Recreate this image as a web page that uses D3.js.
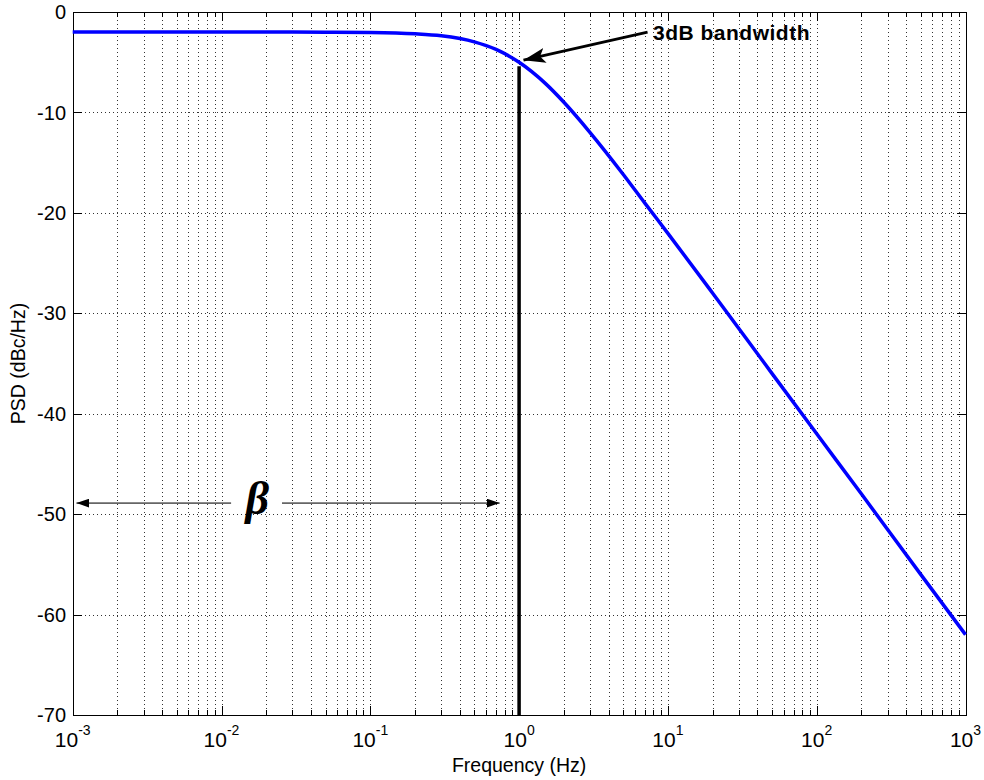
<!DOCTYPE html>
<html>
<head>
<meta charset="utf-8">
<script src="https://cdn.jsdelivr.net/npm/d3@7/dist/d3.min.js"></script>
<style>
  html, body { margin: 0; padding: 0; background: #fff; }
  svg { display: block; font-family: Arial, "Liberation Sans", Helvetica, sans-serif; }
</style>
</head>
<body>
<svg id="chart" width="984" height="780"></svg>
<script>
// Power spectral density of a Lorentzian line shape
const freq = [0.001, 0.003, 0.01, 0.03, 0.05, 0.1, 0.2, 0.3, 0.5, 0.7, 1, 1.5, 2, 3, 5, 7, 10, 20, 50, 100, 200, 500, 1000];
const psd  = [-2.0, -2.0, -2.0, -2.0, -2.01, -2.04, -2.17, -2.37, -2.97, -3.73, -5.01, -7.11, -8.99, -12.0, -16.15, -19.03, -22.04, -28.0, -35.98, -42.0, -48.0, -56.0, -62.0];

const xTickExponents = [-3, -2, -1, 0, 1, 2, 3];
const yTickValues = [0, -10, -20, -30, -40, -50, -60, -70];

const bandwidthFreq = 1;       // 3 dB corner frequency
const bandwidthLineTop = -5.4; // top of the marker line (dB)
const annotationText = "3dB bandwidth";
const annotationTail = [7.3, -2.0];   // [Hz, dB]
const annotationTip = [1.07, -4.8];
const betaLeft = [0.00106, 0.0116, -48.9];  // [tip Hz, tail Hz, dB]
const betaRight = [0.0255, 0.74, -48.9];    // [tail Hz, tip Hz, dB]
const betaPos = [0.0174, -48.9];

const svg = d3.select("#chart");
const L = 72.7, R = 965.5, T = 12, B = 715;

const x = d3.scaleLog().domain([1e-3, 1e3]).range([L, R]);
const y = d3.scaleLinear().domain([-70, 0]).range([B, T]);

// arrowhead markers
const defs = svg.append("defs");
defs.append("marker").attr("id", "bigHead")
  .attr("viewBox", "0 0 22 15").attr("refX", 22).attr("refY", 7.5)
  .attr("markerWidth", 22).attr("markerHeight", 15)
  .attr("markerUnits", "userSpaceOnUse").attr("orient", "auto")
  .append("path").attr("d", "M0,0 L22,7.5 L0,15 L5,7.5 Z").attr("fill", "#000");
defs.append("marker").attr("id", "smallHead")
  .attr("viewBox", "0 0 13 9").attr("refX", 13).attr("refY", 4.5)
  .attr("markerWidth", 13).attr("markerHeight", 9)
  .attr("markerUnits", "userSpaceOnUse").attr("orient", "auto")
  .append("path").attr("d", "M0,0 L13,4.5 L0,9 Z").attr("fill", "#000");

// grid lines
const minor = [];
for (let e = -3; e < 3; e++) for (let m = 2; m <= 9; m++) minor.push(m * Math.pow(10, e));
const major = xTickExponents.slice(1, -1).map(e => Math.pow(10, e));

const grid = svg.append("g").attr("stroke", "#333").attr("stroke-width", 1)
  .attr("stroke-dasharray", "1,3").attr("shape-rendering", "crispEdges");
grid.selectAll(".gx").data(minor.concat(major)).join("line")
  .attr("x1", d => Math.round(x(d)) + 0.5).attr("x2", d => Math.round(x(d)) + 0.5)
  .attr("y1", T).attr("y2", B);
grid.selectAll(".gy").data(yTickValues.slice(1, -1)).join("line")
  .attr("y1", d => Math.round(y(d)) + 0.5).attr("y2", d => Math.round(y(d)) + 0.5)
  .attr("x1", L).attr("x2", R);

// tick marks on all four sides, pointing inward
const ticks = svg.append("g").attr("stroke", "#000").attr("stroke-width", 1).attr("shape-rendering", "crispEdges");
const majLen = 9, minLen = 5;
minor.forEach(v => {
  const px = Math.round(x(v)) + 0.5;
  ticks.append("line").attr("x1", px).attr("x2", px).attr("y1", B).attr("y2", B - minLen);
  ticks.append("line").attr("x1", px).attr("x2", px).attr("y1", T).attr("y2", T + minLen);
});
xTickExponents.forEach(e => {
  const px = Math.round(x(Math.pow(10, e))) + 0.5;
  ticks.append("line").attr("x1", px).attr("x2", px).attr("y1", B).attr("y2", B - majLen);
  ticks.append("line").attr("x1", px).attr("x2", px).attr("y1", T).attr("y2", T + majLen);
});
yTickValues.forEach(v => {
  const py = Math.round(y(v)) + 0.5;
  ticks.append("line").attr("x1", L).attr("x2", L + majLen).attr("y1", py).attr("y2", py);
  ticks.append("line").attr("x1", R).attr("x2", R - majLen).attr("y1", py).attr("y2", py);
});

// axes box
svg.append("rect").attr("x", Math.round(L) + 0.5).attr("y", T + 0.5)
  .attr("width", Math.round(R) - Math.round(L)).attr("height", B - T)
  .attr("fill", "none").attr("stroke", "#000").attr("stroke-width", 1)
  .attr("shape-rendering", "crispEdges");

// y tick labels
svg.append("g").selectAll("text").data(yTickValues).join("text")
  .attr("x", 66).attr("y", d => y(d)).attr("dy", "0.36em")
  .attr("text-anchor", "end").attr("font-size", 20).text(d => d);

// x tick labels as powers of ten
const xl = svg.append("g").selectAll("text").data(xTickExponents).join("text")
  .attr("x", d => x(Math.pow(10, d))).attr("y", 747)
  .attr("text-anchor", "middle").attr("font-size", 21);
xl.append("tspan").text("10");
xl.append("tspan").attr("dy", -12).attr("font-size", 14).text(d => d);

// axis titles
svg.append("text").attr("x", x(1)).attr("y", 772).attr("text-anchor", "middle")
  .attr("font-size", 19.5).text("Frequency (Hz)");
svg.append("text").attr("transform", `translate(25,${(T + B) / 2}) rotate(-90)`)
  .attr("text-anchor", "middle").attr("font-size", 19.5).text("PSD (dBc/Hz)");

// PSD curve
const line = d3.line().x((d, i) => x(freq[i])).y((d, i) => y(psd[i])).curve(d3.curveMonotoneX);
svg.append("path").datum(psd).attr("d", line)
  .attr("fill", "none").attr("stroke", "#0000ff").attr("stroke-width", 3.5)
  .attr("stroke-linejoin", "round");

// 3 dB bandwidth marker line
svg.append("line").attr("x1", x(bandwidthFreq)).attr("x2", x(bandwidthFreq))
  .attr("y1", y(bandwidthLineTop)).attr("y2", B)
  .attr("stroke", "#000").attr("stroke-width", 3.5);

// annotation arrow and label
svg.append("line")
  .attr("x1", x(annotationTail[0])).attr("y1", y(annotationTail[1]))
  .attr("x2", x(annotationTip[0])).attr("y2", y(annotationTip[1]))
  .attr("stroke", "#000").attr("stroke-width", 2.8).attr("marker-end", "url(#bigHead)");
svg.append("text").attr("x", 653).attr("y", 40).attr("font-size", 21)
  .attr("font-weight", "bold").attr("letter-spacing", 0.5).text(annotationText);

// beta span arrows
svg.append("line").attr("x1", x(betaLeft[1])).attr("x2", x(betaLeft[0]))
  .attr("y1", y(betaLeft[2])).attr("y2", y(betaLeft[2]))
  .attr("stroke", "#666").attr("stroke-width", 1.8).attr("marker-end", "url(#smallHead)");
svg.append("line").attr("x1", x(betaRight[0])).attr("x2", x(betaRight[1]))
  .attr("y1", y(betaRight[2])).attr("y2", y(betaRight[2]))
  .attr("stroke", "#666").attr("stroke-width", 1.8).attr("marker-end", "url(#smallHead)");
svg.append("text").attr("x", x(betaPos[0])).attr("y", y(betaPos[1]) + 11)
  .attr("text-anchor", "middle").attr("font-family", "'Liberation Serif', 'Times New Roman', serif")
  .attr("font-style", "italic").attr("font-weight", "bold").attr("font-size", 46).text("β");
</script>
</body>
</html>
